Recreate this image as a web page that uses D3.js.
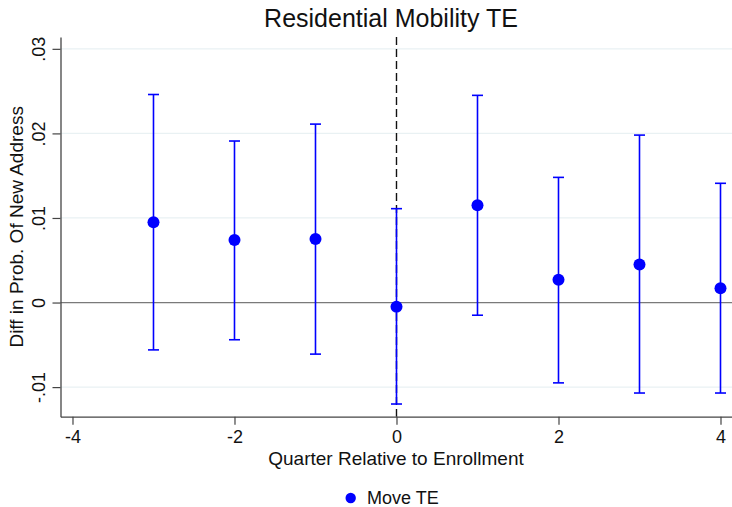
<!DOCTYPE html>
<html>
<head>
<meta charset="utf-8">
<script src="https://cdn.jsdelivr.net/npm/d3@7"></script>
<style>
  html, body { margin: 0; padding: 0; background: #fff; }
  svg { display: block; font-family: "Liberation Sans", Arial, Helvetica, sans-serif; }
</style>
</head>
<body>
<svg id="chart" width="732" height="507"></svg>
<script>
// ---- data ----
const quarters  = [-3, -2, -1, 0, 1, 2, 3, 4];
const estimates = [0.0095, 0.0074, 0.0075, -0.0005, 0.0115, 0.0027, 0.0045, 0.0017];
const lowerCI   = [-0.0056, -0.0044, -0.0061, -0.0120, -0.0015, -0.0095, -0.0107, -0.0107];
const upperCI   = [0.0246, 0.0191, 0.0211, 0.0111, 0.0245, 0.0148, 0.0198, 0.0141];
const xTicks    = [-4, -2, 0, 2, 4];
const yTicks    = [-0.01, 0, 0.01, 0.02, 0.03];
const gridTicks = [-0.01, 0.01, 0.02, 0.03];
const titleText = "Residential Mobility TE";
const xTitle    = "Quarter Relative to Enrollment";
const yTitle    = "Diff in Prob. Of New Address";
const legendLabel = "Move TE";

(function () {
const svg = d3.select("#chart");
const pL = 60.5, pR = 732, pT = 37, pB = 416.7;

const x = d3.scaleLinear().domain([-4.148, 4.142]).range([pL, pR]);
const y = d3.scaleLinear().domain([-0.0135, 0.0314]).range([pB, pT]);

const yFmt = v => {
  if (Math.abs(v) < 1e-12) return "0";
  const s = v.toFixed(2).replace(/^(-?)0\./, "$1.");
  return s;
};
const xFmt = v => String(v);

// grid lines
svg.append("g").selectAll("line").data(gridTicks).join("line")
  .attr("x1", pL).attr("x2", pR)
  .attr("y1", d => y(d)).attr("y2", d => y(d))
  .attr("stroke", "#e9f1f3").attr("stroke-width", 1.2);

// zero line
svg.append("line")
  .attr("x1", pL).attr("x2", pR)
  .attr("y1", y(0)).attr("y2", y(0))
  .attr("stroke", "#7a7a7a").attr("stroke-width", 1.3);

// dashed reference line at x=0
svg.append("line")
  .attr("x1", x(0)).attr("x2", x(0))
  .attr("y1", pT).attr("y2", pB)
  .attr("stroke", "#111").attr("stroke-width", 1.4)
  .attr("stroke-dasharray", "8,4");

// axes
const yAxis = svg.append("g").attr("transform", `translate(${pL},0)`)
  .call(d3.axisLeft(y).tickValues(yTicks).tickFormat(yFmt).tickSize(8).tickSizeOuter(0));
yAxis.select(".domain").attr("stroke", "#444").attr("stroke-width", 1.3);
yAxis.selectAll(".tick line").attr("stroke", "#444").attr("stroke-width", 1.2);
yAxis.selectAll(".tick text")
  .attr("font-size", 18).attr("fill", "#111")
  .attr("text-anchor", "middle")
  .attr("x", null).attr("dy", null)
  .attr("transform", "translate(-15.5,0) rotate(-90)");

const xAxis = svg.append("g").attr("transform", `translate(0,${pB})`)
  .call(d3.axisBottom(x).tickValues(xTicks).tickFormat(xFmt).tickSize(8).tickSizeOuter(0));
xAxis.select(".domain").attr("stroke", "#444").attr("stroke-width", 1.3);
xAxis.selectAll(".tick line").attr("stroke", "#444").attr("stroke-width", 1.2);
xAxis.selectAll(".tick text")
  .attr("font-size", 18).attr("fill", "#111")
  .attr("y", 26.5).attr("dy", null);

// error bars
const blue = "#0000ff";
const data = quarters.map((q, i) => ({ q, est: estimates[i], lo: lowerCI[i], hi: upperCI[i] }));
const g = svg.append("g");
g.selectAll("line.ci").data(data).join("line").attr("class", "ci")
  .attr("x1", d => x(d.q)).attr("x2", d => x(d.q))
  .attr("y1", d => y(d.lo)).attr("y2", d => y(d.hi))
  .attr("stroke", blue).attr("stroke-width", 1.6);
g.selectAll("line.capHi").data(data).join("line").attr("class", "capHi")
  .attr("x1", d => x(d.q) - 5.5).attr("x2", d => x(d.q) + 5.5)
  .attr("y1", d => y(d.hi)).attr("y2", d => y(d.hi))
  .attr("stroke", blue).attr("stroke-width", 1.6);
g.selectAll("line.capLo").data(data).join("line").attr("class", "capLo")
  .attr("x1", d => x(d.q) - 5.5).attr("x2", d => x(d.q) + 5.5)
  .attr("y1", d => y(d.lo)).attr("y2", d => y(d.lo))
  .attr("stroke", blue).attr("stroke-width", 1.6);
g.selectAll("circle").data(data).join("circle")
  .attr("cx", d => x(d.q)).attr("cy", d => y(d.est)).attr("r", 6)
  .attr("fill", blue);

// titles
svg.append("text").attr("x", 391).attr("y", 27).attr("text-anchor", "middle")
  .attr("font-size", 25).attr("fill", "#111").text(titleText);
svg.append("text").attr("x", 396).attr("y", 465).attr("text-anchor", "middle")
  .attr("font-size", 19).attr("fill", "#111").text(xTitle);
svg.append("text").attr("transform", `translate(23,${(pT + pB) / 2}) rotate(-90)`)
  .attr("text-anchor", "middle")
  .attr("font-size", 19).attr("fill", "#111").text(yTitle);

// legend
svg.append("circle").attr("cx", 350.7).attr("cy", 498).attr("r", 5.2).attr("fill", blue);
svg.append("text").attr("x", 367).attr("y", 504)
  .attr("font-size", 18).attr("fill", "#111").text(legendLabel);
})();
</script>
</body>
</html>
